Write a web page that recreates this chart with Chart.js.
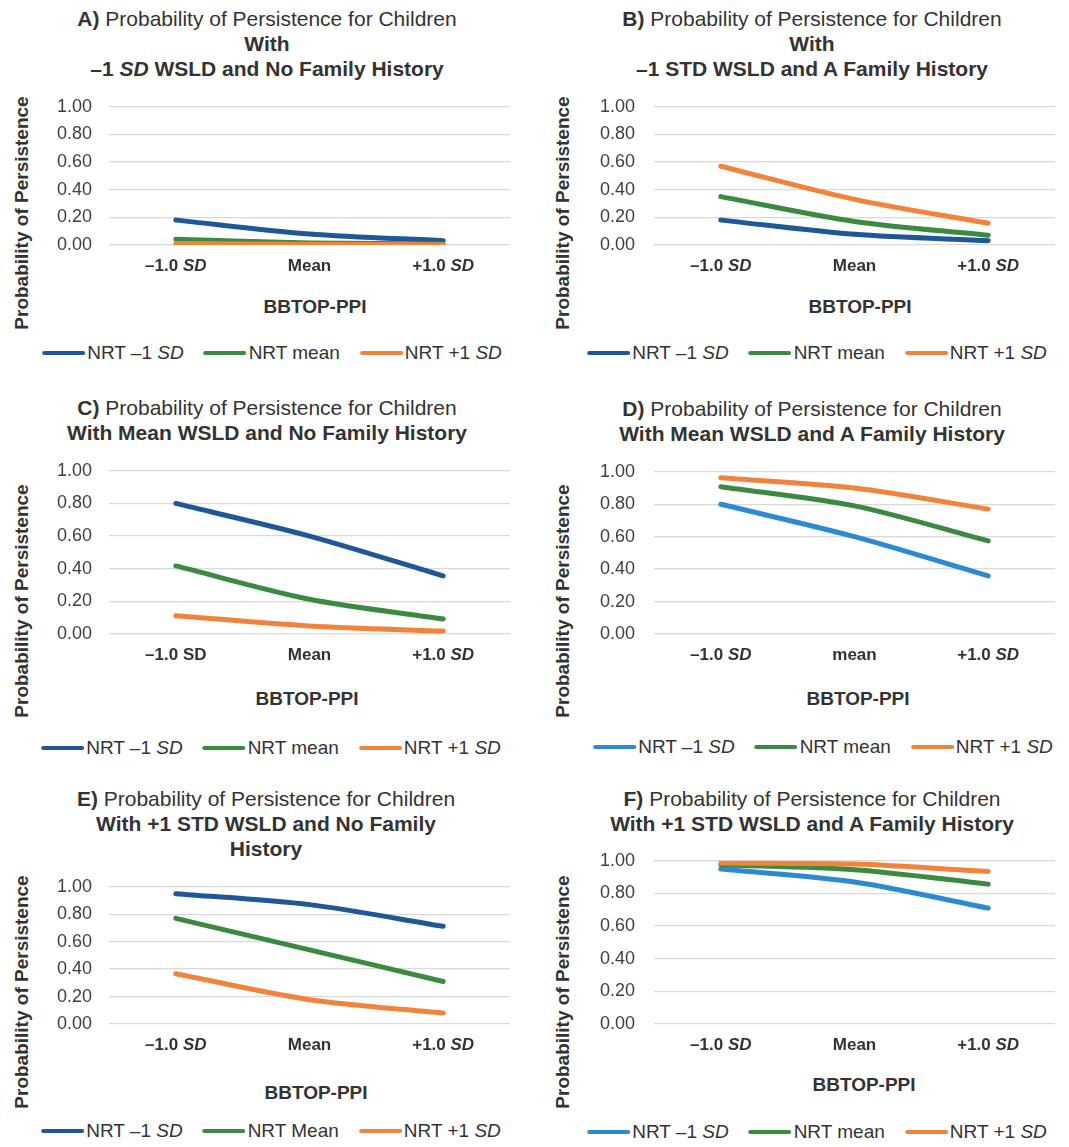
<!DOCTYPE html>
<html>
<head>
<meta charset="utf-8">
<script src="https://cdn.jsdelivr.net/npm/chart.js@4.4.1/dist/chart.umd.min.js"></script>
<style>
  html,body{margin:0;padding:0;background:#fff;}
  #wrap{position:relative;width:1069px;height:1147px;background:#fff;font-family:"Liberation Sans",Arial,sans-serif;color:#333;overflow:hidden;}
  .tl{position:absolute;white-space:nowrap;font-size:21px;line-height:25px;transform:translateX(-50%);}
  .ytitle{position:absolute;white-space:nowrap;font-size:19px;font-weight:bold;transform:translate(-50%,-50%) rotate(-90deg);}
  .xtitle{position:absolute;white-space:nowrap;font-size:19px;font-weight:bold;transform:translate(-50%,-50%);}
  .legend{position:absolute;white-space:nowrap;font-size:19px;line-height:22px;transform:translate(-50%,-50%);display:flex;gap:20px;}
  .legend .it{display:flex;align-items:center;}
  .legend .ln{display:inline-block;width:43px;height:4.5px;border-radius:2px;margin-right:2px;}
  canvas{position:absolute;}
</style>
</head>
<body>
<div id="wrap"></div>
<script>
// ---------- DATA ----------
const yTickValues = [0, 0.2, 0.4, 0.6, 0.8, 1.0];
const categories = ['-1.0 SD', 'Mean', '+1.0 SD'];

// Tick labels (text between * is italic)
const ticksA = ['–1.0 *SD*', 'Mean', '+1.0 *SD*'];
const ticksB = ['–1.0 *SD*', 'Mean', '+1.0 *SD*'];
const ticksC = ['–1.0 SD', 'Mean', '+1.0 *SD*'];
const ticksD = ['–1.0 *SD*', 'mean', '+1.0 *SD*'];
const ticksE = ['–1.0 *SD*', 'Mean', '+1.0 *SD*'];
const ticksF = ['–1.0 *SD*', 'Mean', '+1.0 *SD*'];

const legendStd = ['NRT –1 *SD*', 'NRT mean', 'NRT +1 *SD*'];
const legendE = ['NRT –1 *SD*', 'NRT Mean', 'NRT +1 *SD*'];

// Series values
const A_nrtLow  = [0.18, 0.08, 0.031];
const A_nrtMean = [0.041, 0.015, 0.007];
const A_nrtHigh = [0.01, 0.005, 0.002];

const B_nrtLow  = [0.18, 0.077, 0.031];
const B_nrtMean = [0.35, 0.17, 0.07];
const B_nrtHigh = [0.57, 0.33, 0.157];

const C_nrtLow  = [0.80, 0.60, 0.356];
const C_nrtMean = [0.417, 0.213, 0.092];
const C_nrtHigh = [0.112, 0.049, 0.018];

const D_nrtLow  = [0.80, 0.60, 0.358];
const D_nrtMean = [0.908, 0.79, 0.574];
const D_nrtHigh = [0.963, 0.90, 0.77];

const E_nrtLow  = [0.95, 0.87, 0.712];
const E_nrtMean = [0.77, 0.54, 0.31];
const E_nrtHigh = [0.366, 0.177, 0.08];

const F_nrtLow  = [0.95, 0.87, 0.71];
const F_nrtMean = [0.976, 0.945, 0.857];
const F_nrtHigh = [0.986, 0.98, 0.935];

// Titles (HTML)
const titleA = ['<b>A)</b> Probability of Persistence for Children', '<b>With</b>', '<b>–1 <i>SD</i> WSLD and No Family History</b>'];
const titleB = ['<b>B)</b> Probability of Persistence for Children', '<b>With</b>', '<b>–1 STD WSLD and A Family History</b>'];
const titleC = ['<b>C)</b> Probability of Persistence for Children', '<b>With Mean WSLD and No Family History</b>'];
const titleD = ['<b>D)</b> Probability of Persistence for Children', '<b>With Mean WSLD and A Family History</b>'];
const titleE = ['<b>E)</b> Probability of Persistence for Children', '<b>With +1 STD WSLD and No Family</b>', '<b>History</b>'];
const titleF = ['<b>F)</b> Probability of Persistence for Children', '<b>With +1 STD WSLD and A Family History</b>'];

const yAxisTitle = 'Probability of Persistence';
const xAxisTitle = 'BBTOP-PPI';

// ---------- STYLE / LAYOUT ----------
const DARKBLUE = '#1f5897', LIGHTBLUE = '#2b8ad0', GREEN = '#3a8b3f', ORANGE = '#f1843a';
const FONT = '"Liberation Sans", Arial, sans-serif';

const panels = [
  {left:0,   width:535, plot:[109,510,107,245], tcx:267, ty:[18,43,68], yt:[22,213], xt:[315,307], lg:[272,353], tp:17,
   title:titleA, ticks:ticksA, legend:legendStd, series:[A_nrtLow,A_nrtMean,A_nrtHigh], colors:[DARKBLUE,GREEN,ORANGE]},
  {left:535, width:534, plot:[654,1055,107,245], tcx:812, ty:[18,43,68], yt:[563,213], xt:[860,307], lg:[817,353], tp:19,
   title:titleB, ticks:ticksB, legend:legendStd, series:[B_nrtLow,B_nrtMean,B_nrtHigh], colors:[DARKBLUE,GREEN,ORANGE]},
  {left:0,   width:535, plot:[109,510,471,634], tcx:267, ty:[407,432], yt:[22,601], xt:[307,699], lg:[271,748], tp:17,
   title:titleC, ticks:ticksC, legend:legendStd, series:[C_nrtLow,C_nrtMean,C_nrtHigh], colors:[DARKBLUE,GREEN,ORANGE]},
  {left:535, width:534, plot:[654,1055,472,634], tcx:812, ty:[408,433], yt:[563,601], xt:[858,699], lg:[823,747], tp:19,
   title:titleD, ticks:ticksD, legend:legendStd, series:[D_nrtLow,D_nrtMean,D_nrtHigh], colors:[LIGHTBLUE,GREEN,ORANGE]},
  {left:0,   width:535, plot:[109,510,887,1024], tcx:266, ty:[798,823,848], yt:[22,992], xt:[316,1093], lg:[271,1131], tp:17,
   title:titleE, ticks:ticksE, legend:legendE, series:[E_nrtLow,E_nrtMean,E_nrtHigh], colors:[DARKBLUE,GREEN,ORANGE]},
  {left:535, width:534, plot:[654,1055,861,1024], tcx:812, ty:[798,823], yt:[563,992], xt:[864,1085], lg:[817,1132], tp:19,
   title:titleF, ticks:ticksF, legend:legendStd, series:[F_nrtLow,F_nrtMean,F_nrtHigh], colors:[LIGHTBLUE,GREEN,ORANGE]},
];

function parseSegs(s){
  const parts = s.split('*');
  return parts.map((t,i)=>({t, it: i%2===1})).filter(p=>p.t.length);
}
function segsHTML(s){
  return parseSegs(s).map(p => p.it ? '<i>'+p.t+'</i>' : p.t).join('');
}

const xLabelPlugin = {
  id: 'xlabels',
  afterDraw(chart, args, opts){
    const ctx = chart.ctx, xs = chart.scales.x;
    const y = chart.scales.y.getPixelForValue(0) + opts.offset;
    ctx.save();
    ctx.textBaseline = 'middle';
    ctx.textAlign = 'left';
    ctx.fillStyle = '#333';
    opts.labels.forEach((lab, i) => {
      const segs = parseSegs(lab);
      let total = 0;
      segs.forEach(s => { ctx.font = (s.it ? 'italic ' : '') + 'bold 17px ' + FONT; s.w = ctx.measureText(s.t).width; total += s.w; });
      let x = xs.getPixelForValue(i) - total / 2;
      segs.forEach(s => { ctx.font = (s.it ? 'italic ' : '') + 'bold 17px ' + FONT; ctx.fillText(s.t, x, y); x += s.w; });
    });
    ctx.restore();
  }
};

const wrap = document.getElementById('wrap');
const seriesNames = ['NRT -1 SD', 'NRT mean', 'NRT +1 SD'];

function buildChart(cv, p, ch, padTop, padBottom){
  const [pl, pr] = p.plot;
  cv.width = p.width; cv.height = ch;
  cv.style.width = p.width + 'px'; cv.style.height = ch + 'px';
  return new Chart(cv.getContext('2d'), {
    type: 'line',
    data: {
      labels: categories,
      datasets: p.series.map((s, i) => ({
        label: seriesNames[i],
        data: s,
        borderColor: p.colors[i],
        backgroundColor: p.colors[i],
        borderWidth: 5,
        pointRadius: 0,
        tension: 0.3,
        borderCapStyle: 'round',
        borderJoinStyle: 'round',
        order: 3 - i
      }))
    },
    options: {
      responsive: false,
      maintainAspectRatio: false,
      animation: false,
      devicePixelRatio: 1,
      layout: { autoPadding: false, padding: { top: padTop, bottom: padBottom, left: 0, right: (p.left + p.width) - pr } },
      plugins: {
        legend: { display: false },
        title: { display: false },
        tooltip: { enabled: false },
        xlabels: { labels: p.ticks, offset: 21 }
      },
      scales: {
        x: {
          type: 'category',
          offset: true,
          grid: { display: false, drawTicks: false },
          border: { display: false },
          ticks: { display: false },
          afterFit: s => { s.height = 0; }
        },
        y: {
          min: 0, max: 1,
          afterBuildTicks: s => { s.ticks = yTickValues.map(v => ({ value: v })); },
          grid: { color: '#d9d9d9', lineWidth: 1.3, drawTicks: false },
          border: { display: false },
          ticks: {
            padding: p.tp,
            color: '#404040',
            font: { family: FONT, size: 18 },
            callback: v => Number(v).toFixed(2)
          },
          afterFit: s => { s.width = pl - p.left; }
        }
      }
    },
    plugins: [xLabelPlugin]
  });
}

panels.forEach(p => {
  // title
  p.title.forEach((line, i) => {
    const d = document.createElement('div');
    d.className = 'tl';
    d.style.left = p.tcx + 'px';
    d.style.top = (p.ty[i] - 12.5) + 'px';
    d.innerHTML = line;
    wrap.appendChild(d);
  });
  // y title
  const yt = document.createElement('div');
  yt.className = 'ytitle';
  yt.style.left = p.yt[0] + 'px'; yt.style.top = p.yt[1] + 'px';
  yt.textContent = yAxisTitle;
  wrap.appendChild(yt);
  // x title
  const xt = document.createElement('div');
  xt.className = 'xtitle';
  xt.style.left = p.xt[0] + 'px'; xt.style.top = p.xt[1] + 'px';
  xt.textContent = xAxisTitle;
  wrap.appendChild(xt);
  // legend
  const lg = document.createElement('div');
  lg.className = 'legend';
  lg.style.left = p.lg[0] + 'px'; lg.style.top = p.lg[1] + 'px';
  lg.innerHTML = p.legend.map((l, i) =>
    '<span class="it"><span class="ln" style="background:' + p.colors[i] + '"></span><span>' + segsHTML(l) + '</span></span>').join('');
  wrap.appendChild(lg);

  // canvas
  const [pl, pr, pt, pb] = p.plot;
  const padTop = 20, padBottom = 40;
  const cv = document.createElement('canvas');
  cv.style.left = p.left + 'px';
  wrap.appendChild(cv);
  let ch = (pb - pt) + padTop + padBottom;
  let chart = buildChart(cv, p, ch, padTop, padBottom);
  // refit: rebuild with a height that makes the 0..1 axis span the intended pixels
  for (let k = 0; k < 4; k++) {
    const ys = chart.scales.y;
    const have = ys.getPixelForValue(0) - ys.getPixelForValue(1);
    const want = pb - pt;
    if (Math.abs(have - want) < 0.6) break;
    ch = Math.round(ch + (want - have));
    chart.destroy();
    chart = buildChart(cv, p, ch, padTop, padBottom);
  }
  const y1 = chart.scales.y.getPixelForValue(1);
  cv.style.top = Math.round(pt - y1) + 'px';
});
</script>
</body>
</html>
